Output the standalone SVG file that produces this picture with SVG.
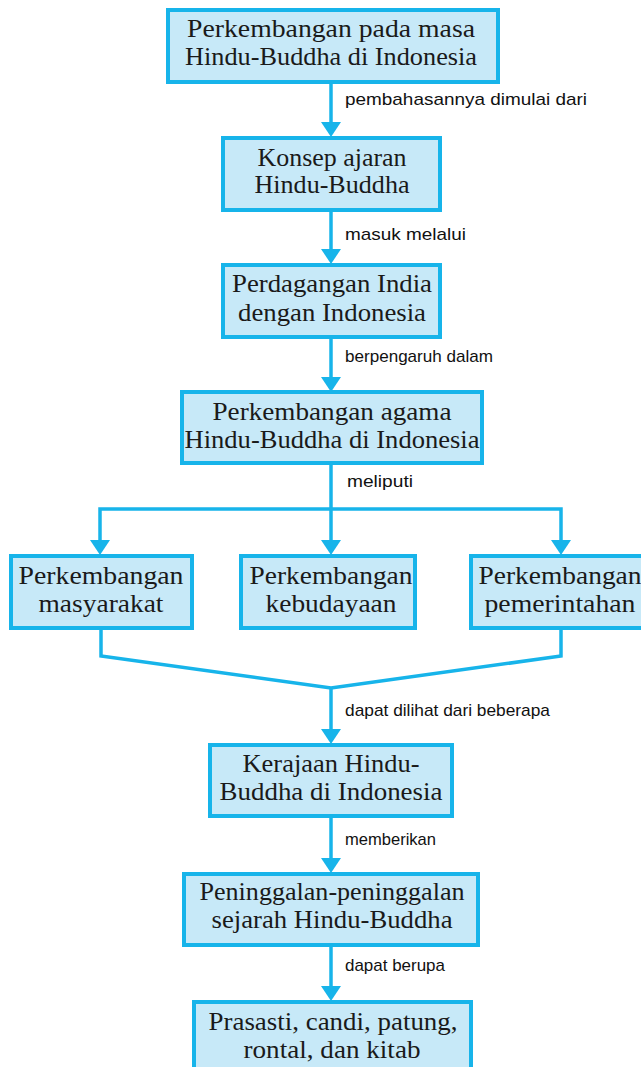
<svg xmlns="http://www.w3.org/2000/svg" width="641" height="1067" viewBox="0 0 641 1067">
<style>
.box{fill:#c7e9f8;stroke:#17b4ea;stroke-width:4}
.t{font-family:"Liberation Serif","DejaVu Serif",serif;font-size:26px;fill:#1a1a1a;text-anchor:middle}
.l{font-family:"Liberation Sans","DejaVu Sans",sans-serif;font-size:17px;fill:#111}
.c{fill:none;stroke:#17b4ea;stroke-width:3.5}
</style>
<rect width="641" height="1067" fill="#ffffff"/>
<g id="connectors">
<line class="c" x1="331" y1="82" x2="331" y2="124"/>
<line class="c" x1="331" y1="210" x2="331" y2="251"/>
<line class="c" x1="331" y1="337" x2="331" y2="379"/>
<line class="c" x1="331" y1="464" x2="331" y2="509"/>
<polyline class="c" points="100,542 100,509 561,509 561,542"/>
<line class="c" x1="331" y1="509" x2="331" y2="542"/>
<polyline class="c" points="101,629 101,656 331,688 561,656 561,629"/>
<line class="c" x1="331" y1="688" x2="331" y2="731"/>
<line class="c" x1="331" y1="817" x2="331" y2="860"/>
<line class="c" x1="331" y1="946" x2="331" y2="988"/>
<g fill="#17b4ea">
<polygon points="321,122 341,122 331,137"/>
<polygon points="321,249 341,249 331,264"/>
<polygon points="321,377 341,377 331,392"/>
<polygon points="90,540 110,540 100,555"/>
<polygon points="321,540 341,540 331,555"/>
<polygon points="551,540 571,540 561,555"/>
<polygon points="321,729 341,729 331,744"/>
<polygon points="321,858 341,858 331,873"/>
<polygon points="321,986 341,986 331,1001"/>
</g>
<text class="l" x="345" y="105" textLength="242" lengthAdjust="spacingAndGlyphs">pembahasannya dimulai dari</text>
<text class="l" x="345" y="240" textLength="121" lengthAdjust="spacingAndGlyphs">masuk melalui</text>
<text class="l" x="345" y="362" textLength="148" lengthAdjust="spacingAndGlyphs">berpengaruh dalam</text>
<text class="l" x="347" y="487" textLength="66" lengthAdjust="spacingAndGlyphs">meliputi</text>
<text class="l" x="345" y="716" textLength="205" lengthAdjust="spacingAndGlyphs">dapat dilihat dari beberapa</text>
<text class="l" x="345" y="845" textLength="91" lengthAdjust="spacingAndGlyphs">memberikan</text>
<text class="l" x="345" y="971" textLength="100" lengthAdjust="spacingAndGlyphs">dapat berupa</text>
</g>
<g id="n1">
<rect class="box" x="168" y="10" width="330" height="72"/>
<text class="t" x="331" y="37" textLength="288" lengthAdjust="spacingAndGlyphs">Perkembangan pada masa</text>
<text class="t" x="331" y="65" textLength="292" lengthAdjust="spacingAndGlyphs">Hindu-Buddha di Indonesia</text>
</g>
<g id="n2">
<rect class="box" x="223" y="138" width="217" height="72"/>
<text class="t" x="332" y="166" textLength="149" lengthAdjust="spacingAndGlyphs">Konsep ajaran</text>
<text class="t" x="332" y="193" textLength="155" lengthAdjust="spacingAndGlyphs">Hindu-Buddha</text>
</g>
<g id="n3">
<rect class="box" x="223" y="265" width="217" height="72"/>
<text class="t" x="332" y="292" textLength="200" lengthAdjust="spacingAndGlyphs">Perdagangan India</text>
<text class="t" x="332" y="321" textLength="188" lengthAdjust="spacingAndGlyphs">dengan Indonesia</text>
</g>
<g id="n4">
<rect class="box" x="182" y="392" width="300" height="71"/>
<text class="t" x="332" y="420" textLength="239" lengthAdjust="spacingAndGlyphs">Perkembangan agama</text>
<text class="t" x="332" y="448" textLength="295" lengthAdjust="spacingAndGlyphs">Hindu-Buddha di Indonesia</text>
</g>
<g id="n5">
<rect class="box" x="11" y="556" width="181" height="72"/>
<text class="t" x="101" y="584" textLength="165" lengthAdjust="spacingAndGlyphs">Perkembangan</text>
<text class="t" x="101" y="612" textLength="125" lengthAdjust="spacingAndGlyphs">masyarakat</text>
</g>
<g id="n6">
<rect class="box" x="241" y="556" width="174" height="72"/>
<text class="t" x="331" y="584" textLength="163" lengthAdjust="spacingAndGlyphs">Perkembangan</text>
<text class="t" x="331" y="612" textLength="131" lengthAdjust="spacingAndGlyphs">kebudayaan</text>
</g>
<g id="n7">
<rect class="box" x="471" y="556" width="174" height="72"/>
<text class="t" x="560" y="584" textLength="163" lengthAdjust="spacingAndGlyphs">Perkembangan</text>
<text class="t" x="560" y="612" textLength="151" lengthAdjust="spacingAndGlyphs">pemerintahan</text>
</g>
<g id="n8">
<rect class="box" x="210" y="745" width="242" height="71"/>
<text class="t" x="331" y="772" textLength="177" lengthAdjust="spacingAndGlyphs">Kerajaan Hindu-</text>
<text class="t" x="331" y="800" textLength="223" lengthAdjust="spacingAndGlyphs">Buddha di Indonesia</text>
</g>
<g id="n9">
<rect class="box" x="184" y="874" width="294" height="71"/>
<text class="t" x="332" y="900" textLength="265" lengthAdjust="spacingAndGlyphs">Peninggalan-peninggalan</text>
<text class="t" x="332" y="928" textLength="241" lengthAdjust="spacingAndGlyphs">sejarah Hindu-Buddha</text>
</g>
<g id="n10">
<rect class="box" x="194" y="1002" width="277" height="75"/>
<text class="t" x="333" y="1030" textLength="249" lengthAdjust="spacingAndGlyphs">Prasasti, candi, patung,</text>
<text class="t" x="332" y="1058" textLength="177" lengthAdjust="spacingAndGlyphs">rontal, dan kitab</text>
</g>
</svg>
